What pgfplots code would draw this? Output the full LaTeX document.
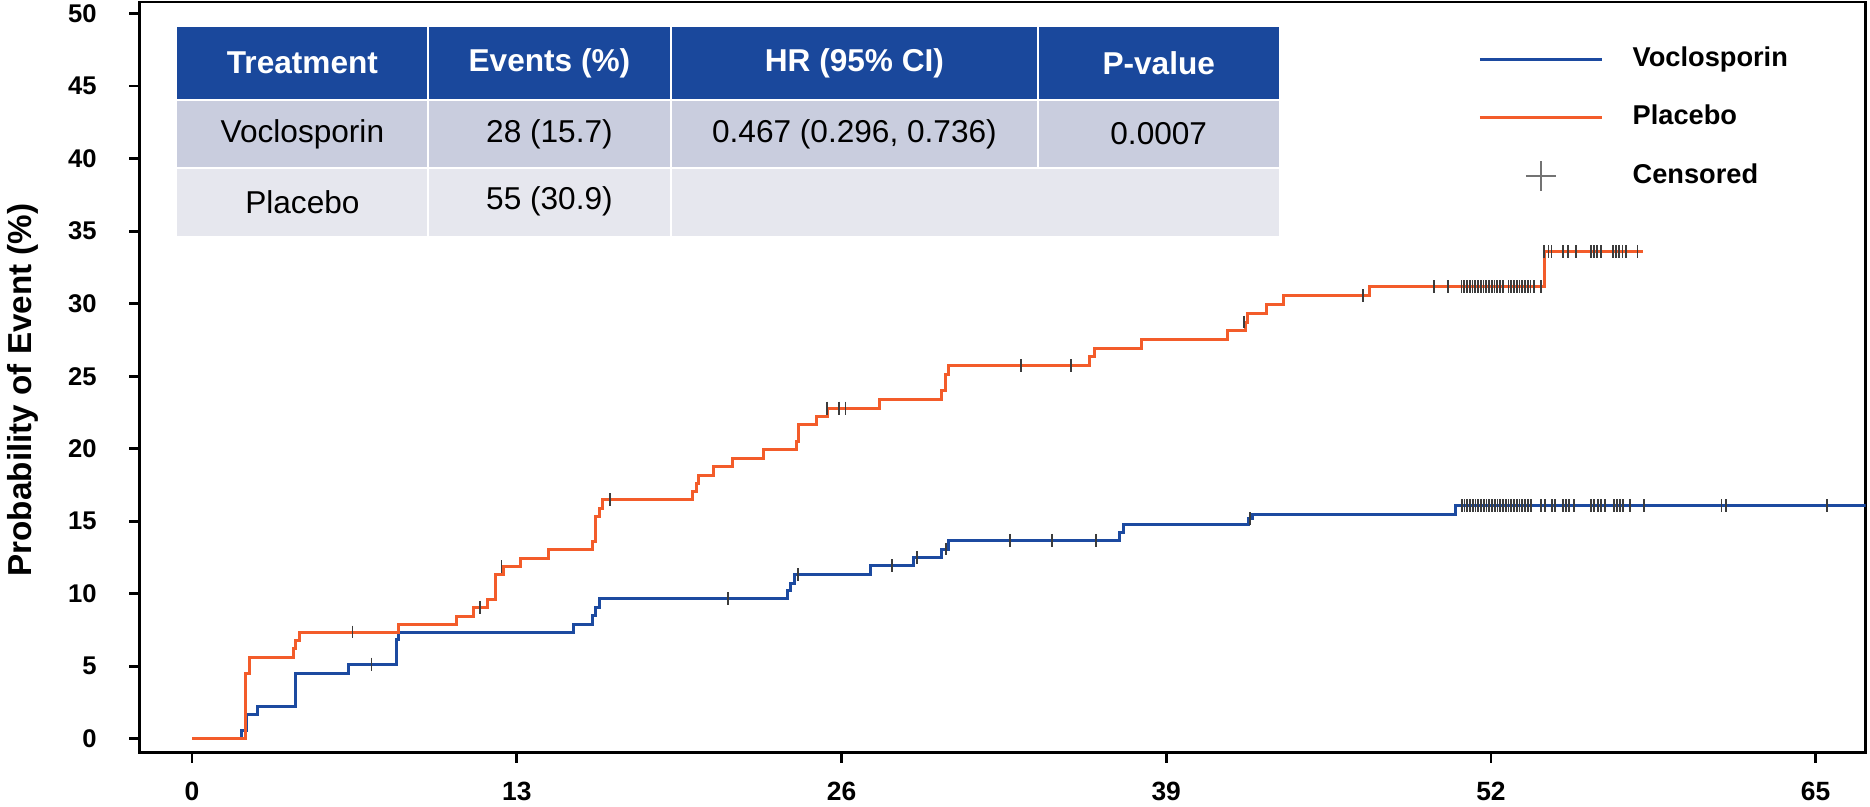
\documentclass[border=0pt]{standalone}
\usepackage{fontspec}
\setmainfont{Liberation Sans}
\usepackage{pgfplots}
\pgfplotsset{compat=1.18}
\definecolor{hdrblue}{RGB}{26,72,156}
\definecolor{rowA}{RGB}{201,205,222}
\definecolor{rowB}{RGB}{230,231,238}
\definecolor{vocblue}{RGB}{28,74,160}
\definecolor{placorange}{RGB}{243,92,42}
\definecolor{censgray}{RGB}{60,60,60}
\begin{document}
\begin{tikzpicture}
\begin{axis}[
  scale only axis, width=431.4pt, height=187.6pt,
  xmin=-2.1, xmax=67.0, ymin=-0.95, ymax=50.8,
  axis line style={line width=0.68pt},
  xtick={0,13,26,39,52,65}, ytick={0,5,...,50},
  tick pos=left, tick align=outside, major tick length=2.6pt,
  tick style={black, line width=0.68pt},
  /pgf/number format/assume math mode=true,
  xticklabel style={font=\bfseries\fontsize{6.6}{7}\selectfont, yshift=-1.2pt},
  yticklabel style={font=\bfseries\fontsize{6.4}{7}\selectfont, xshift=-4.6pt},
  ylabel={Probability of Event (\%)},
  ylabel style={font=\bfseries\fontsize{8.3}{9}\selectfont, at={([xshift=-27pt]axis description cs:0,0.483)}, anchor=base},
  legend style={draw=none, fill=none, inner sep=0pt, outer sep=0pt,
    at={(axis cs:51.5,47.75)}, anchor=north west,
    font=\bfseries\fontsize{6.8}{8}\selectfont,
    row sep=8.2pt,
    /tikz/every odd column/.append style={column sep=7.3pt},
    nodes={inner sep=0pt, text height=5pt, text depth=1.4pt}},
  legend cell align=left,
  legend image code/.code={\draw[#1] (0pt,0pt) -- (30.5pt,0pt);},
]
% ---- table ----
\fill[hdrblue] (axis cs:-0.617,44.06) rectangle (axis cs:43.52,49.09);
\fill[rowA] (axis cs:-0.617,39.37) rectangle (axis cs:43.52,44.06);
\fill[rowB] (axis cs:-0.617,34.68) rectangle (axis cs:43.52,39.37);
\draw[white, line width=0.6pt] (axis cs:-0.617,44.06) -- (axis cs:43.52,44.06);
\draw[white, line width=0.6pt] (axis cs:-0.617,39.37) -- (axis cs:43.52,39.37);
\draw[white, line width=0.6pt] (axis cs:9.451,34.68) -- (axis cs:9.451,49.09);
\draw[white, line width=0.6pt] (axis cs:19.163,34.68) -- (axis cs:19.163,49.09);
\draw[white, line width=0.6pt] (axis cs:33.873,39.37) -- (axis cs:33.873,49.09);
\begin{scope}[every node/.style={font=\fontsize{7.9}{9}\selectfont, inner sep=0pt}]
\node[text=white, font=\bfseries\fontsize{7.9}{9}\selectfont] at (axis cs:4.417,46.58) {Treatment};
\node[text=white, font=\bfseries\fontsize{7.9}{9}\selectfont] at (axis cs:14.307,46.58) {Events (\%)};
\node[text=white, font=\bfseries\fontsize{7.9}{9}\selectfont] at (axis cs:26.518,46.58) {HR (95\% CI)};
\node[text=white, font=\bfseries\fontsize{7.9}{9}\selectfont] at (axis cs:38.70,46.58) {P-value};
\node at (axis cs:4.417,41.71) {Voclosporin};
\node at (axis cs:14.307,41.71) {28 (15.7)};
\node at (axis cs:26.518,41.71) {0.467 (0.296, 0.736)};
\node at (axis cs:38.70,41.71) {0.0007};
\node at (axis cs:4.417,37.03) {Placebo};
\node at (axis cs:14.307,37.03) {55 (30.9)};
\end{scope}
% ---- Voclosporin ----
\addplot[const plot, vocblue, line width=0.75pt] coordinates {
(0,0) (1.99,0.59) (2.18,1.68) (2.61,2.26) (4.14,4.53) (6.28,5.15)
(8.18,6.83) (8.25,7.36) (15.28,7.91) (16.03,8.48) (16.17,9.08) (16.30,9.66)
(23.82,10.23) (23.96,10.74) (24.13,11.31) (27.16,11.93) (28.87,12.50)
(30.00,13.08) (30.30,13.68) (37.12,14.23) (37.30,14.80) (42.29,15.20)
(42.45,15.48) (50.60,16.07) (67.0,16.07)};
\addlegendentry{Voclosporin}
% ---- Placebo ----
\addplot[const plot, placorange, line width=0.75pt] coordinates {
(0,0) (2.12,4.53) (2.31,5.62) (4.05,6.20) (4.14,6.78) (4.32,7.36)
(8.26,7.86) (10.57,8.43) (11.27,9.06) (11.84,9.63) (12.16,11.31) (12.47,11.88)
(13.14,12.46) (14.27,13.03) (16.03,13.60) (16.17,15.32) (16.30,15.90) (16.44,16.48)
(20.04,17.06) (20.18,17.63) (20.28,18.16) (20.86,18.74) (21.62,19.31) (22.89,19.93)
(24.19,20.50) (24.29,21.66) (25.00,22.23) (25.43,22.80) (27.54,23.42) (30.01,24.01)
(30.17,25.10) (30.30,25.74) (35.91,26.37) (36.14,26.94) (38.01,27.52) (41.46,28.16)
(42.16,28.73) (42.25,29.31) (43.02,29.93) (43.68,30.57) (47.14,31.18) (54.15,33.58)
(58.10,33.58)};
\addlegendentry{Placebo}
% ---- censored marks ----
\addplot[only marks, mark=|, mark size=1.6pt, mark options={censgray, line width=0.45pt}, forget plot] coordinates {
(7.18,5.15) (21.46,9.66) (24.25,11.31) (28.03,11.93) (29.01,12.50) (30.17,13.08)
(32.74,13.68) (34.42,13.68) (36.18,13.68) (42.34,15.20)
(50.83,16.07) (50.94,16.07) (51.05,16.07) (51.16,16.07) (51.27,16.07) (51.38,16.07)
(51.49,16.07) (51.60,16.07) (51.71,16.07) (51.82,16.07) (51.93,16.07) (52.04,16.07)
(52.15,16.07) (52.26,16.07) (52.37,16.07) (52.48,16.07) (52.59,16.07) (52.70,16.07)
(52.81,16.07) (52.92,16.07) (53.03,16.07) (53.14,16.07) (53.25,16.07) (53.36,16.07)
(53.47,16.07) (53.60,16.07) (54.00,16.07) (54.16,16.07) (54.43,16.07) (54.56,16.07)
(54.87,16.07) (55.00,16.07) (55.13,16.07) (55.31,16.07) (56.00,16.07) (56.11,16.07)
(56.27,16.07) (56.40,16.07) (56.56,16.07) (56.91,16.07) (57.04,16.07) (57.17,16.07)
(57.30,16.07) (57.57,16.07) (58.13,16.07) (61.23,16.07) (61.41,16.07) (65.45,16.07)};
\addplot[only marks, mark=|, mark size=1.6pt, mark options={censgray, line width=0.45pt}, forget plot] coordinates {
(6.42,7.36) (11.53,9.06) (12.39,11.88) (16.74,16.48) (25.43,22.80) (25.89,22.80)
(26.16,22.80) (33.18,25.74) (35.18,25.74) (42.10,28.73) (46.87,30.57)
(49.72,31.18) (50.28,31.18)
(50.82,31.18) (50.93,31.18) (51.04,31.18) (51.15,31.18) (51.26,31.18) (51.37,31.18)
(51.48,31.18) (51.59,31.18) (51.70,31.18) (51.81,31.18) (51.92,31.18) (52.03,31.18)
(52.14,31.18) (52.25,31.18) (52.36,31.18) (52.47,31.18) (52.70,31.18) (52.81,31.18)
(52.92,31.18) (53.03,31.18) (53.14,31.18) (53.25,31.18) (53.36,31.18) (53.47,31.18)
(53.58,31.18) (53.73,31.18) (54.00,31.18)
(54.13,33.58) (54.30,33.58) (54.42,33.58) (54.87,33.58) (55.10,33.58) (55.40,33.58)
(56.00,33.58) (56.11,33.58) (56.23,33.58) (56.40,33.58) (56.87,33.58) (57.00,33.58)
(57.13,33.58) (57.27,33.58) (57.40,33.58) (57.87,33.58)};
\addlegendimage{legend image code/.code={\path[draw=none, fill=none] (0pt,0pt) -- (30.5pt,0pt); \draw[overlay, line width=0.35pt, black!55] (11.5pt,0pt) -- (19pt,0pt) (15.25pt,-3.75pt) -- (15.25pt,3.75pt);}}
\addlegendentry{Censored}
\end{axis}
\pgfresetboundingbox
\path[use as bounding box] ([xshift=-34.9pt,yshift=-13.5pt]current axis.south west) rectangle ([xshift=1.1pt,yshift=0.5pt]current axis.north east);
\end{tikzpicture}
\end{document}
